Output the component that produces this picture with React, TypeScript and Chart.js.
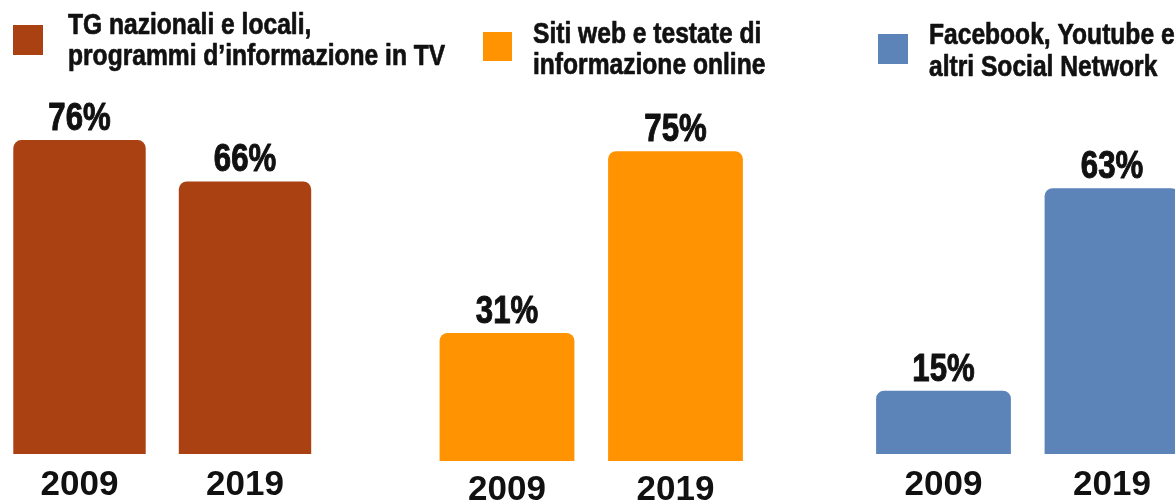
import React, { useEffect, useRef } from 'react';
import { Chart, registerables } from 'chart.js';

Chart.register(...registerables);

// ---- data ----
const years = ['2009', '2019'];
const tvLegend = ['TG nazionali e locali,', 'programmi d’informazione in TV'];
const webLegend = ['Siti web e testate di', 'informazione online'];
const socialLegend = ['Facebook, Youtube e', 'altri Social Network'];
const tvValues = [76, 66];
const webValues = [31, 75];
const socialValues = [15, 63];

// ---- styling ----
const FONT = "'Liberation Sans', Arial, sans-serif";
const NARROW = 0.82; // horizontal compression, emulating a condensed face
const TEXT = '#111111';
const W = 1175;
const H = 503;

type PanelCfg = {
  legend: string[];
  values: number[];
  color: string;
  left: number;
  width: number;
  pad: { left: number; right: number; top: number };
  axisH: number;
  tickPad: number;
  sq: [number, number, number];
  textX: number;
  bases: [number, number];
};

const panels: PanelCfg[] = [
  {
    legend: tvLegend, values: tvValues, color: '#AA4112',
    left: -20, width: 490, pad: { left: 16.75, right: 142.25, top: 41 }, axisH: 49, tickPad: 14,
    sq: [33, 25, 30], textX: 88, bases: [34, 65],
  },
  {
    legend: webLegend, values: webValues, color: '#FF9302',
    left: 420, width: 420, pad: { left: 2.75, right: 80.25, top: 48 }, axisH: 42, tickPad: 12,
    sq: [63, 32, 29], textX: 113, bases: [43, 74],
  },
  {
    legend: socialLegend, values: socialValues, color: '#5C84B8',
    left: 840, width: 360, pad: { left: 19.25, right: 3.75, top: 32 }, axisH: 49, tickPad: 14,
    sq: [38, 34, 30], textX: 89, bases: [44, 76],
  },
];

function narrowText(ctx: CanvasRenderingContext2D, text: string, x: number, y: number, weight: number) {
  ctx.save();
  ctx.translate(x, y);
  ctx.scale(NARROW, 1);
  ctx.fillText(text, 0, 0);
  if (weight > 0) {
    ctx.lineWidth = weight;
    ctx.strokeStyle = ctx.fillStyle;
    ctx.lineJoin = 'round';
    ctx.strokeText(text, 0, 0);
  }
  ctx.restore();
}

function makeChart(canvas: HTMLCanvasElement, p: PanelCfg) {
  const legendPlugin = {
    id: 'panelLegend',
    afterDraw(chart: any) {
      const ctx = chart.ctx;
      ctx.save();
      ctx.fillStyle = p.color;
      ctx.fillRect(p.sq[0], p.sq[1], p.sq[2], p.sq[2]);
      ctx.fillStyle = TEXT;
      ctx.font = `bold 30px ${FONT}`;
      ctx.textAlign = 'left';
      ctx.textBaseline = 'alphabetic';
      p.legend.forEach((line, i) => narrowText(ctx, line, p.textX, p.bases[i], 0.7));
      ctx.restore();
    },
  };
  const valuePlugin = {
    id: 'valueLabels',
    afterDatasetsDraw(chart: any) {
      const ctx = chart.ctx;
      const meta = chart.getDatasetMeta(0);
      ctx.save();
      ctx.fillStyle = TEXT;
      ctx.font = `bold 38px ${FONT}`;
      ctx.textAlign = 'center';
      ctx.textBaseline = 'alphabetic';
      meta.data.forEach((el: any, i: number) => {
        const v = chart.data.datasets[0].data[i];
        narrowText(ctx, `${v}%`, el.x, el.y - 10, 1);
      });
      ctx.restore();
    },
  };

  return new Chart(canvas, {
    type: 'bar',
    data: {
      labels: years,
      datasets: [
        {
          label: p.legend.join(' '),
          data: p.values,
          backgroundColor: p.color,
          borderWidth: 0,
          borderRadius: { topLeft: 8, topRight: 8, bottomLeft: 0, bottomRight: 0 },
          borderSkipped: 'start',
          barPercentage: 0.8,
          categoryPercentage: 1,
        },
      ],
    },
    options: {
      responsive: false,
      animation: false,
      devicePixelRatio: 1,
      layout: { padding: { left: p.pad.left, right: p.pad.right, top: p.pad.top, bottom: 0 } },
      plugins: {
        legend: { display: false },
        title: { display: false },
        tooltip: { enabled: false },
      },
      scales: {
        x: {
          type: 'category',
          grid: { display: false, drawTicks: false },
          border: { display: false },
          ticks: {
            color: TEXT,
            padding: p.tickPad,
            font: { family: FONT, weight: 'bold', size: 35, lineHeight: 1 },
          },
          afterFit: (scale: any) => {
            scale.height = p.axisH;
          },
        },
        y: {
          display: false,
          min: 0,
          max: 100,
        },
      },
    },
    plugins: [legendPlugin, valuePlugin],
  } as any);
}

export default function App() {
  const r1 = useRef<HTMLCanvasElement>(null);
  const r2 = useRef<HTMLCanvasElement>(null);
  const r3 = useRef<HTMLCanvasElement>(null);

  useEffect(() => {
    const refs = [r1, r2, r3];
    const charts = refs.map((r, i) => makeChart(r.current as HTMLCanvasElement, panels[i]));
    return () => charts.forEach((c) => c.destroy());
  }, []);

  const refs = [r1, r2, r3];
  return (
    <div
      style={{
        position: 'absolute',
        left: 0,
        top: 0,
        width: W,
        height: H,
        overflow: 'hidden',
        background: '#ffffff',
      }}
    >
      {panels.map((p, i) => (
        <canvas
          key={i}
          ref={refs[i]}
          width={p.width}
          height={H}
          style={{ position: 'absolute', left: p.left, top: 0, width: p.width, height: H }}
        />
      ))}
    </div>
  );
}
